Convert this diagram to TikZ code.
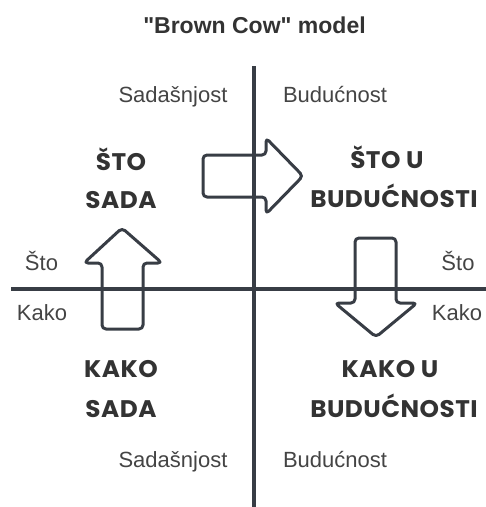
\documentclass[tikz,border=0pt]{standalone}
\usepackage{fontspec}
\setmainfont{Liberation Sans}[Ligatures=TeXOff]
\newfontfamily\handfont{Poppins}[FakeStretch=1.03,LetterSpace=2]
\definecolor{axis}{HTML}{383D45}
\definecolor{label}{HTML}{444444}
\definecolor{hand}{HTML}{333333}
\begin{document}
\begin{tikzpicture}[x=1pt,y=-1pt,
  lbl/.style={anchor=base,text=label,inner sep=0pt,font=\fontsize{22}{24}\selectfont},
  hnd/.style={anchor=base,text=hand,inner sep=0pt,font=\handfont\bfseries\fontsize{24}{26}\selectfont},
  blockarrow/.style={draw=axis,line width=3pt,rounded corners=4pt,line join=round}]
\useasboundingbox (0,0) rectangle (486,507);
\node[anchor=base,text=hand,inner sep=0pt,font=\bfseries\fontsize{23}{25}\selectfont] (title) at (254.5,33) {"Brown Cow" model};
% the arrows
\draw[blockarrow] (203,155) -- (266,155) -- (266,138) -- (303,176) -- (266,214) -- (266,197) -- (203,197) -- cycle;
\draw[blockarrow] (102,329) -- (102,263) -- (84,263) -- (122,228) -- (162,263) -- (143,263) -- (143,329) -- cycle;
\draw[blockarrow] (355,238) -- (396,238) -- (396,303) -- (417,303) -- (376,337) -- (335,303) -- (355,303) -- cycle;
% axes
\draw[axis,line width=4.5pt] (254,66) -- (254,507);
\draw[axis,line width=4.5pt] (11,289) -- (486,289);
\node[lbl] (sadTop) at (173,102) {Sadašnjost};
\node[lbl] (budTop) at (335,102) {Budućnost};
\node[lbl] (sadBot) at (173,467) {Sadašnjost};
\node[lbl] (budBot) at (335,467) {Budućnost};
\node[lbl] (stoL) at (41.5,270) {Što};
\node[lbl] (kakoL) at (42,320) {Kako};
\node[lbl] (stoR) at (458,270) {Što};
\node[lbl] (kakoR) at (457,320) {Kako};
\node[hnd] (stoSada1) at (121,170) {ŠTO};
\node[hnd] (stoSada2) at (121,208) {SADA};
\node[hnd] (stoBud1) at (387,168) {ŠTO U};
\node[hnd] (stoBud2) at (394,207) {BUDUĆNOSTI};
\node[hnd] (kakoSada1) at (121,377) {KAKO};
\node[hnd] (kakoSada2) at (121,417) {SADA};
\node[hnd] (kakoBud1) at (390,377) {KAKO U};
\node[hnd] (kakoBud2) at (394,417) {BUDUĆNOSTI};
\end{tikzpicture}
\end{document}
